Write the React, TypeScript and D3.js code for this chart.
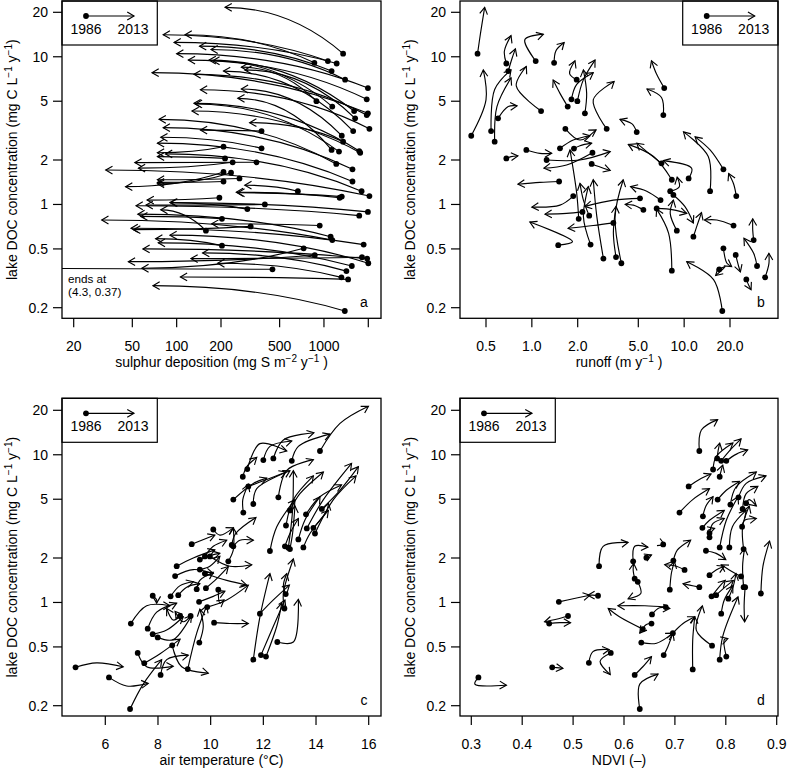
import React from "react";
import * as d3 from "d3";

const FONT = "'Liberation Sans', Arial, Helvetica, sans-serif";
const W = 787;
const H = 773;

// ---------------- data ----------------
const docTicks = [0.2, 0.5, 1, 2, 5, 10, 20];
const docTickLabels = ["0.2", "0.5", "1", "2", "5", "10", "20"];
const sulphurTicks = [20, 50, 100, 200, 500, 1000, 2000];
const sulphurTickLabels = ["20", "50", "100", "200", "500", "1000", ""];
const runoffTicks = [0.5, 1, 2, 5, 10, 20];
const runoffTickLabels = ["0.5", "1.0", "2.0", "5.0", "10.0", "20.0"];
const tempTicks = [6, 8, 10, 12, 14, 16];
const tempTickLabels = ["6", "8", "10", "12", "14", "16"];
const ndviTicks = [0.3, 0.4, 0.5, 0.6, 0.7, 0.8, 0.9];
const ndviTickLabels = ["0.3", "0.4", "0.5", "0.6", "0.7", "0.8", "0.9"];

// sulphur deposition: [S 1986, DOC 1986, S 2013, DOC 2013]
const sulphurTracks = [
  [1349, 10.5, 213, 21.6], [1063, 9.35, 81, 14.1], [861, 9.1, 114, 14.1], [1220, 9.0, 96, 12.5],
  [1127, 8.0, 143, 11.8], [1392, 7.0, 171, 11.2], [1988, 6.14, 100, 10.5], [1952, 5.15, 120, 9.5],
  [889, 5.0, 275, 8.5], [1139, 4.6, 176, 9.4], [1603, 4.29, 166, 9.5], [1988, 4.14, 68, 7.8],
  [1952, 4.03, 131, 7.6], [1628, 3.83, 290, 8.15], [2035, 3.25, 145, 5.98], [1579, 3.14, 208, 8.0],
  [1321, 2.92, 275, 6.05], [1349, 2.66, 313, 3.58], [1127, 2.34, 260, 5.23], [1736, 2.3, 131, 4.84],
  [1265, 2.28, 134, 4.79], [1763, 2.24, 127, 4.29], [1212, 1.88, 76, 3.77], [1562, 1.73, 81, 3.31],
  [377, 3.14, 145, 3.19], [377, 2.4, 78, 2.85], [208, 2.46, 74, 2.24], [1562, 1.43, 74, 2.6],
  [1801, 1.23, 84, 2.2], [213, 2.05, 74, 2.11], [348, 1.93, 52, 1.92], [240, 1.93, 55, 1.76],
  [2035, 1.14, 33, 1.71], [208, 1.43, 74, 1.41], [234, 1.64, 74, 1.38], [208, 1.66, 45, 1.32],
  [665, 1.23, 290, 1.35], [1321, 1.13, 260, 1.2], [1278, 1.11, 254, 1.21], [1988, 0.89, 90, 1.03],
  [1736, 0.84, 53, 0.98], [397, 1.0, 62, 0.99], [158, 0.665, 78, 0.92], [1110, 0.605, 54.5, 0.86],
  [1139, 0.574, 31, 0.785], [936, 0.72, 173, 0.74], [1860, 0.535, 49, 0.69], [203, 0.526, 72, 0.587],
  [447, 0.364, 4.3, 0.37], [1385, 0.19, 69, 0.282], [1459, 0.311, 106, 0.323], [728, 0.505, 58, 0.37],
  [866, 0.453, 47, 0.41], [1812, 0.439, 125, 0.43], [1964, 0.43, 59, 0.5], [2000, 0.4, 90, 0.62],
  [1546, 0.383, 75, 0.55], [1421, 0.354, 150, 0.47], [1314, 0.321, 190, 0.4], [267, 1.5, 74, 1.47],
  [195, 1.11, 63, 1.07], [302, 0.93, 91, 1.03], [203, 0.8, 57, 0.83], [318, 0.71, 51, 0.675],
];

// runoff: [start, DOC, mid, DOC, end, DOC]
const runoffTracks = [
  [0.44, 10.5, 0.46, 14.4, 0.49, 21.6], [0.4, 2.92, 0.5, 5.1, 0.48, 8.15], [0.68, 9.0, 0.66, 10.9, 0.73, 13.9],
  [0.7, 8.0, 0.74, 9.7, 0.78, 11.3], [1.06, 9.35, 0.9, 13.1, 1.19, 14.2], [1.4, 9.1, 1.44, 11.0, 1.63, 12.5],
  [0.54, 3.14, 0.57, 6.0, 0.73, 8.15], [0.6, 3.83, 0.7, 4.6, 0.8, 4.65], [0.57, 2.66, 0.59, 4.6, 0.73, 7.2],
  [1.15, 4.29, 0.79, 6.35, 0.92, 8.6], [1.66, 3.25, 2.07, 2.73, 2.64, 3.2], [1.97, 7.0, 1.77, 7.7, 1.92, 9.4],
  [1.82, 5.15, 1.97, 6.5, 2.53, 7.8], [1.99, 5.0, 2.18, 7.0, 2.6, 9.5], [1.72, 4.6, 1.53, 5.65, 1.38, 6.95],
  [2.23, 4.14, 2.29, 5.65, 2.18, 8.15], [3.1, 3.25, 2.53, 5.1, 3.47, 6.8], [4.88, 3.09, 4.55, 3.51, 3.79, 3.77],
  [7.4, 6.14, 6.6, 7.6, 6.1, 9.4], [7.3, 4.03, 7.1, 5.3, 5.7, 6.05], [18.1, 1.73, 14.8, 2.34, 11.8, 2.87],
  [14.8, 1.23, 14.4, 2.11, 9.9, 3.1], [10.7, 1.5, 11.2, 1.76, 7.3, 1.98], [8.3, 1.47, 6.3, 2.11, 4.3, 2.55],
  [7.1, 1.9, 5.68, 2.28, 4.88, 2.6], [22, 1.14, 21.1, 1.38, 19.6, 1.62], [8.1, 1.23, 9.3, 1.32, 9.0, 1.53],
  [0.92, 2.34, 1.13, 2.22, 1.35, 2.22], [0.68, 2.05, 0.73, 2.11, 0.81, 2.13], [1.25, 2.0, 2.07, 2.0, 3.27, 2.28],
  [2.5, 2.24, 1.69, 1.85, 1.2, 1.76], [2.47, 1.88, 2.95, 1.76, 3.27, 1.7], [1.51, 1.43, 1.13, 1.41, 0.81, 1.37],
  [1.87, 1.14, 1.53, 0.99, 1.0, 0.96], [2.15, 0.89, 1.69, 0.87, 1.22, 0.86], [1.49, 0.53, 1.85, 0.56, 0.97, 0.76],
  [3.43, 0.75, 2.53, 0.72, 1.73, 0.69], [5.13, 1.1, 3.43, 1.07, 2.23, 0.97], [2.95, 0.43, 2.67, 0.83, 2.53, 1.47],
  [3.57, 0.44, 3.43, 0.64, 3.57, 0.97], [3.87, 0.4, 3.52, 0.83, 3.98, 1.47], [2.43, 0.535, 2.18, 0.83, 2.35, 1.32],
  [2.38, 0.84, 2.18, 1.07, 2.07, 1.39], [2.03, 0.8, 1.97, 1.19, 1.78, 2.34], [5.4, 0.92, 4.64, 0.99, 4.1, 1.0],
  [6.6, 0.94, 8.5, 0.92, 10.4, 0.87], [7.0, 1.07, 5.68, 1.23, 4.45, 1.32], [8.3, 0.356, 7.9, 0.64, 6.6, 0.93],
  [17.8, 0.19, 15.6, 0.31, 10.4, 0.41], [17.0, 0.364, 18.6, 0.38, 16.1, 0.33], [18.1, 0.505, 19.1, 0.4, 20.5, 0.38],
  [21.8, 0.455, 22.8, 0.38, 23.4, 0.35], [25.6, 0.311, 26.5, 0.285, 27.5, 0.265], [28.6, 0.574, 28.2, 0.67, 28.2, 0.8],
  [30.1, 0.383, 28.6, 0.467, 24.7, 0.59], [34.0, 0.321, 36.0, 0.396, 36.0, 0.467], [21.1, 0.72, 16.4, 0.785, 13.6, 0.785],
  [11.5, 0.605, 12.1, 0.71, 13.0, 0.88], [8.95, 0.665, 8.1, 0.87, 8.5, 1.07], [8.5, 1.16, 10.1, 0.97, 11.5, 0.75],
  [1.53, 2.4, 1.87, 2.73, 2.41, 2.92], [1.89, 2.39, 2.07, 2.5, 2.47, 2.6],
];

// air temperature: [start, DOC, mid, DOC, end, DOC]
const tempTracks = [
  [14.15, 10.6, 14.91, 16.3, 15.99, 21.3], [13.08, 9.1, 13.33, 11.4, 14.53, 13.8], [12.38, 9.45, 12.76, 12.6, 13.92, 14.1],
  [12.0, 9.2, 12.25, 11.4, 13.08, 12.4], [11.39, 8.0, 11.87, 11.9, 12.89, 10.6], [11.22, 7.1, 11.37, 8.3, 11.75, 9.6],
  [11.24, 4.06, 11.22, 4.97, 11.43, 6.3], [11.43, 6.1, 12.13, 6.8, 12.86, 7.65], [10.86, 4.97, 11.62, 6.4, 12.13, 6.95],
  [11.62, 4.64, 11.75, 5.9, 13.01, 7.8], [12.57, 5.15, 12.89, 7.85, 13.9, 9.27], [12.95, 2.35, 13.11, 4.2, 13.14, 7.8],
  [10.1, 3.12, 10.35, 2.86, 10.86, 3.2], [9.28, 2.48, 9.66, 2.64, 10.16, 2.86], [4.87, 0.364, 5.67, 0.39, 6.68, 0.367],
  [6.14, 0.311, 6.81, 0.272, 7.63, 0.283], [6.94, 0.19, 7.44, 0.28, 8.14, 0.41], [7.48, 0.388, 8.08, 0.45, 8.84, 0.565],
  [7.23, 0.455, 7.57, 0.367, 8.58, 0.37], [8.1, 0.323, 8.33, 0.41, 9.15, 0.44], [8.54, 0.513, 8.9, 0.367, 9.91, 0.332],
  [9.13, 0.354, 9.47, 0.62, 9.85, 0.95], [9.57, 0.535, 9.72, 0.69, 9.59, 0.9], [6.97, 0.72, 7.57, 0.95, 8.46, 0.95],
  [7.61, 0.665, 7.95, 0.86, 8.71, 0.99], [7.8, 0.61, 8.33, 0.65, 8.96, 0.8], [7.99, 0.58, 8.58, 0.56, 9.28, 0.82],
  [8.84, 0.81, 8.58, 0.76, 8.33, 0.91], [9.24, 0.81, 8.96, 0.74, 8.65, 0.87], [7.8, 1.11, 7.95, 1.04, 7.95, 0.99],
  [8.48, 1.1, 8.84, 1.3, 9.34, 1.38], [8.77, 1.12, 9.09, 1.27, 9.59, 1.34], [9.56, 1.01, 10.1, 1.1, 10.54, 1.19],
  [9.87, 0.93, 10.61, 1.04, 11.43, 1.31], [10.13, 0.73, 10.73, 0.72, 11.43, 0.72], [10.29, 1.22, 10.35, 0.99, 10.51, 1.04],
  [9.47, 1.23, 9.59, 1.41, 10.1, 1.6], [9.82, 1.25, 10.23, 1.45, 10.67, 1.75], [11.62, 0.41, 11.87, 0.8, 12.25, 1.57],
  [11.91, 0.44, 12.38, 0.69, 12.82, 1.04], [12.1, 0.43, 12.51, 0.69, 12.7, 0.99], [12.53, 0.54, 13.14, 0.54, 13.33, 1.05],
  [11.87, 0.84, 12.38, 1.04, 12.99, 1.31], [12.85, 1.14, 12.76, 1.3, 12.89, 1.57], [12.8, 0.91, 12.76, 1.15, 13.14, 1.97],
  [12.86, 3.32, 13.14, 4.97, 13.9, 7.2], [13.01, 4.2, 13.39, 5.45, 14.28, 7.65], [13.33, 2.67, 13.58, 3.62, 14.15, 5.2],
  [13.62, 3.95, 14.15, 5.2, 14.97, 6.25], [13.65, 3.17, 14.28, 4.97, 15.35, 8.75], [13.96, 2.93, 14.66, 4.97, 15.52, 7.2],
  [14.22, 4.3, 14.91, 5.75, 15.61, 8.3], [13.9, 3.2, 14.41, 4.2, 14.47, 4.7], [13.52, 2.36, 13.77, 2.93, 14.47, 4.2],
  [12.82, 2.4, 13.01, 2.93, 13.33, 3.7], [13.01, 2.3, 13.11, 2.93, 13.2, 4.5], [12.25, 2.23, 12.51, 3.25, 13.2, 4.97],
  [10.86, 2.4, 11.11, 2.64, 11.62, 2.64], [10.67, 1.9, 10.86, 2.27, 10.86, 3.2], [9.97, 2.05, 10.73, 1.76, 11.56, 1.8],
  [9.78, 1.57, 10.61, 1.41, 11.37, 1.31], [8.71, 1.76, 9.34, 2.0, 10.16, 2.27], [8.65, 1.51, 9.34, 1.67, 10.1, 1.57],
  [9.59, 1.95, 9.85, 2.05, 10.35, 2.15], [9.78, 2.05, 10.1, 2.4, 10.61, 2.64], [9.59, 1.67, 9.97, 1.76, 10.35, 2.05],
  [10.8, 2.45, 10.95, 2.93, 11.72, 3.76],
];

// NDVI: [start, DOC, mid, DOC, end, DOC]
const ndviTracks = [
  [0.748, 10.6, 0.752, 14.7, 0.784, 17.3], [0.783, 9.45, 0.785, 10.7, 0.788, 12.0], [0.791, 9.1, 0.808, 10.7, 0.83, 12.8],
  [0.801, 9.1, 0.821, 10.1, 0.843, 10.8], [0.775, 7.95, 0.781, 9.7, 0.814, 12.0], [0.788, 7.1, 0.791, 7.85, 0.794, 8.5],
  [0.727, 6.1, 0.748, 6.8, 0.771, 7.4], [0.709, 4.06, 0.735, 4.97, 0.768, 5.9], [0.784, 4.97, 0.801, 5.75, 0.827, 6.6],
  [0.809, 4.6, 0.82, 6.05, 0.86, 7.65], [0.825, 5.15, 0.84, 6.4, 0.879, 7.2], [0.833, 4.3, 0.84, 5.45, 0.863, 6.1],
  [0.84, 4.7, 0.846, 4.97, 0.86, 4.5], [0.832, 3.26, 0.837, 3.6, 0.86, 3.7], [0.835, 2.3, 0.833, 3.26, 0.846, 4.5],
  [0.807, 2.36, 0.813, 3.26, 0.84, 4.2], [0.788, 2.36, 0.801, 3.6, 0.824, 5.2], [0.755, 3.83, 0.761, 4.5, 0.775, 5.2],
  [0.754, 3.2, 0.768, 3.6, 0.797, 4.2], [0.768, 2.95, 0.775, 3.43, 0.797, 3.7], [0.768, 2.76, 0.765, 3.07, 0.778, 3.17],
  [0.761, 2.24, 0.781, 2.15, 0.8, 1.95], [0.83, 1.5, 0.807, 1.66, 0.791, 1.8], [0.768, 1.53, 0.781, 1.66, 0.797, 1.76],
  [0.869, 1.15, 0.873, 1.76, 0.886, 2.6], [0.835, 1.27, 0.833, 1.76, 0.837, 2.33], [0.805, 1.06, 0.815, 1.3, 0.82, 1.57],
  [0.748, 1.27, 0.729, 1.31, 0.716, 1.34], [0.69, 1.22, 0.693, 1.57, 0.699, 1.9], [0.719, 1.66, 0.703, 1.76, 0.68, 1.8],
  [0.697, 1.92, 0.705, 2.27, 0.731, 2.64], [0.618, 1.9, 0.621, 2.4, 0.647, 2.37], [0.621, 1.45, 0.618, 1.66, 0.619, 1.84],
  [0.644, 2.01, 0.647, 2.05, 0.654, 2.1], [0.677, 2.47, 0.674, 2.51, 0.68, 2.46], [0.551, 1.76, 0.559, 2.4, 0.608, 2.55],
  [0.627, 1.38, 0.633, 1.15, 0.608, 1.06], [0.472, 1.01, 0.5, 1.06, 0.533, 1.12], [0.549, 1.11, 0.539, 1.12, 0.529, 1.12],
  [0.49, 0.81, 0.467, 0.77, 0.444, 0.74], [0.453, 0.72, 0.474, 0.73, 0.495, 0.73], [0.531, 0.39, 0.539, 0.465, 0.571, 0.48],
  [0.574, 0.455, 0.553, 0.4, 0.573, 0.325], [0.459, 0.364, 0.467, 0.362, 0.48, 0.358], [0.314, 0.311, 0.307, 0.28, 0.369, 0.275],
  [0.631, 0.19, 0.631, 0.28, 0.667, 0.327], [0.621, 0.323, 0.637, 0.367, 0.654, 0.43], [0.678, 0.44, 0.686, 0.5, 0.696, 0.62],
  [0.634, 0.535, 0.664, 0.53, 0.696, 0.62], [0.696, 0.62, 0.716, 0.72, 0.739, 0.8], [0.735, 0.352, 0.735, 0.56, 0.739, 0.8],
  [0.773, 0.51, 0.742, 0.65, 0.754, 0.95], [0.637, 0.66, 0.591, 0.8, 0.569, 0.91], [0.654, 0.72, 0.644, 0.71, 0.631, 0.62],
  [0.682, 0.93, 0.641, 0.95, 0.588, 0.95], [0.655, 0.83, 0.67, 0.92, 0.69, 0.91], [0.772, 1.1, 0.789, 1.3, 0.799, 1.41],
  [0.781, 1.12, 0.795, 1.24, 0.815, 1.41], [0.838, 1.27, 0.836, 0.95, 0.837, 0.74], [0.791, 0.84, 0.797, 1.04, 0.814, 1.3],
  [0.788, 0.41, 0.794, 0.59, 0.824, 1.09], [0.801, 0.43, 0.797, 0.56, 0.804, 0.57],
];

// ---------------- layout ----------------
const COLS = [
  { left: 62, right: 381 },
  { left: 460, right: 778 },
];
const ROWS = [
  { top: 1, bottom: 318.3, y20: 12.3, y02: 307.7 },
  { top: 398.3, bottom: 716, y20: 410.3, y02: 705.7 },
];

function arrowHead(tip: number[], from: number[], len = 7.8, ang = Math.PI / 6) {
  const a = Math.atan2(tip[1] - from[1], tip[0] - from[0]);
  const p1 = [tip[0] - len * Math.cos(a - ang), tip[1] - len * Math.sin(a - ang)];
  const p2 = [tip[0] - len * Math.cos(a + ang), tip[1] - len * Math.sin(a + ang)];
  return `M${p1[0]},${p1[1]}L${tip[0]},${tip[1]}L${p2[0]},${p2[1]}`;
}

type PanelProps = {
  id: string;
  col: number;
  row: number;
  xScale: any;
  tracks: number[][];
  kind: "quad" | "curve";
  xTicks: number[];
  xTickLabels: string[];
  xTitle: React.ReactNode;
  letter: string;
  legendRight: boolean;
  children?: React.ReactNode;
};

function Panel(p: PanelProps) {
  const c = COLS[p.col];
  const r = ROWS[p.row];
  const x = p.xScale;
  const y = d3.scaleLog().domain([0.2, 20]).range([r.y02, r.y20]);
  const curve = d3.line().curve(d3.curveCatmullRom.alpha(0.5));
  const sw = 1.15;
  const dotR = 2.9;

  const paths: React.ReactNode[] = [];
  const heads: React.ReactNode[] = [];
  const dots: React.ReactNode[] = [];
  p.tracks.forEach((t, i) => {
    if (p.kind === "quad") {
      const P0 = [x(t[0]), y(t[1])];
      const P2 = [x(t[2]), y(t[3])];
      const C = [P0[0] - 0.45 * (P0[0] - P2[0]), P2[1]];
      const path = d3.path();
      path.moveTo(P0[0], P0[1]);
      path.quadraticCurveTo(C[0], C[1], P2[0], P2[1]);
      paths.push(<path key={"l" + i} d={path.toString()} />);
      heads.push(<path key={"h" + i} d={arrowHead(P2, C)} />);
      dots.push(<circle key={"d" + i} cx={P0[0]} cy={P0[1]} r={dotR} />);
    } else {
      const pts: [number, number][] = [
        [x(t[0]), y(t[1])],
        [x(t[2]), y(t[3])],
        [x(t[4]), y(t[5])],
      ];
      paths.push(<path key={"l" + i} d={curve(pts) || ""} />);
      heads.push(<path key={"h" + i} d={arrowHead(pts[2], pts[1])} />);
      dots.push(<circle key={"d" + i} cx={pts[0][0]} cy={pts[0][1]} r={dotR} />);
    }
  });

  const legW = 95.3;
  const legX = p.legendRight ? c.right - legW : c.left;
  const dotX = legX + 24;
  const arrX = legX + 72;
  const legY = r.top + 15;

  return (
    <g>
      <defs>
        <clipPath id={p.id}>
          <rect x={c.left} y={r.top} width={c.right - c.left} height={r.bottom - r.top} />
        </clipPath>
      </defs>
      <g clipPath={`url(#${p.id})`}>
        <g fill="none" stroke="#000" strokeWidth={sw}>{paths}</g>
        <g fill="none" stroke="#000" strokeWidth={sw}>{heads}</g>
        <g fill="#000">{dots}</g>
        {p.children}
      </g>
      <rect x={legX} y={r.top} width={legW} height={44} fill="#fff" stroke="#000" strokeWidth={1.2} />
      <line x1={dotX} y1={legY} x2={arrX} y2={legY} stroke="#000" strokeWidth={sw} />
      <path d={arrowHead([arrX, legY], [dotX, legY])} fill="none" stroke="#000" strokeWidth={sw} />
      <circle cx={dotX} cy={legY} r={dotR} fill="#000" />
      <text x={dotX} y={r.top + 32.7} textAnchor="middle" fontSize={14} fontFamily={FONT}>1986</text>
      <text x={arrX - 1} y={r.top + 32.7} textAnchor="middle" fontSize={14} fontFamily={FONT}>2013</text>
      <rect x={c.left} y={r.top} width={c.right - c.left} height={r.bottom - r.top} fill="none" stroke="#000" strokeWidth={1.3} />
      {docTicks.map((v, i) => (
        <g key={"yt" + i}>
          <line x1={c.left - 9} x2={c.left} y1={y(v)} y2={y(v)} stroke="#000" strokeWidth={1.2} />
          <text x={c.left - 14} y={y(v) + 5} textAnchor="end" fontSize={14} fontFamily={FONT}>{docTickLabels[i]}</text>
        </g>
      ))}
      {p.xTicks.map((v, i) => (
        <g key={"xt" + i}>
          <line x1={x(v)} x2={x(v)} y1={r.bottom} y2={r.bottom + 9} stroke="#000" strokeWidth={1.2} />
          <text x={x(v)} y={r.bottom + 33} textAnchor="middle" fontSize={14} fontFamily={FONT}>{p.xTickLabels[i]}</text>
        </g>
      ))}
      <text x={(c.left + c.right) / 2} y={r.bottom + 49} textAnchor="middle" fontSize={14} fontFamily={FONT}>{p.xTitle}</text>
      <text
        transform={`translate(${c.left - 45},${(r.top + r.bottom) / 2}) rotate(-90)`}
        textAnchor="middle"
        fontSize={14}
        fontFamily={FONT}
      >
        lake DOC concentration (mg C L<tspan dy={-5} fontSize={10}>−1</tspan><tspan dy={5}> y</tspan><tspan dy={-5} fontSize={10}>−1</tspan><tspan dy={5}>)</tspan>
      </text>
      <text x={c.right - 17} y={r.bottom - 11} textAnchor="middle" fontSize={14} fontFamily={FONT}>{p.letter}</text>
    </g>
  );
}

export default function App() {
  const xA = d3.scaleLog().domain([20, 2000]).range([73.7, 368.3]);
  const xB = d3.scaleLog().domain([0.5, 20]).range([486, 730]);
  const xC = d3.scaleLinear().domain([6, 16]).range([105.3, 368.7]);
  const xD = d3.scaleLinear().domain([0.3, 0.9]).range([471.3, 776.7]);

  return (
    <svg width={W} height={H} style={{ position: "absolute", left: 0, top: 0, background: "#fff" }}>
      <rect x={0} y={0} width={W} height={H} fill="#fff" />
      <Panel
        id="clipA" col={0} row={0} xScale={xA} tracks={sulphurTracks} kind="quad"
        xTicks={sulphurTicks} xTickLabels={sulphurTickLabels} letter="a" legendRight={false}
        xTitle={<>sulphur deposition (mg S m<tspan dy={-5} fontSize={10}>−2</tspan><tspan dy={5}> y</tspan><tspan dy={-5} fontSize={10}>−1</tspan><tspan dy={5}> )</tspan></>}
      >
        <text x={68} y={283} fontSize={11.7} fontFamily={FONT}>ends at</text>
        <text x={68} y={296} fontSize={11.7} fontFamily={FONT}>(4.3, 0.37)</text>
      </Panel>
      <Panel
        id="clipB" col={1} row={0} xScale={xB} tracks={runoffTracks} kind="curve"
        xTicks={runoffTicks} xTickLabels={runoffTickLabels} letter="b" legendRight={true}
        xTitle={<>runoff (m y<tspan dy={-5} fontSize={10}>−1</tspan><tspan dy={5}> )</tspan></>}
      />
      <Panel
        id="clipC" col={0} row={1} xScale={xC} tracks={tempTracks} kind="curve"
        xTicks={tempTicks} xTickLabels={tempTickLabels} letter="c" legendRight={false}
        xTitle={<>air temperature (°C)</>}
      />
      <Panel
        id="clipD" col={1} row={1} xScale={xD} tracks={ndviTracks} kind="curve"
        xTicks={ndviTicks} xTickLabels={ndviTickLabels} letter="d" legendRight={false}
        xTitle={<>NDVI (–)</>}
      />
    </svg>
  );
}
